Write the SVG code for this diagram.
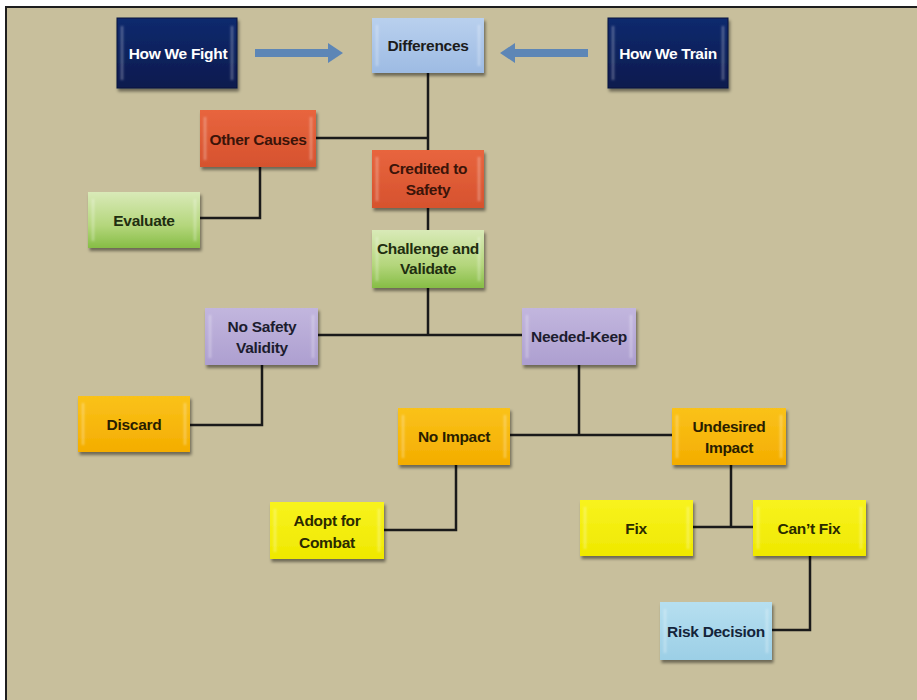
<svg xmlns="http://www.w3.org/2000/svg" width="917" height="700" viewBox="0 0 917 700">
  <style>
    .lbl { font-family: "Liberation Sans", Arial, sans-serif; font-weight: bold; font-size: 15.5px; text-anchor: middle; dominant-baseline: central; letter-spacing: -0.3px; }
    .dark { fill: #1c1c1c; }
    .light { fill: #ffffff; }
    .box { filter: url(#shadow); }
    .hl { stroke: #ffffff; stroke-opacity: 0.3; stroke-width: 2.5; fill: none; filter: url(#soft); }
    .conn { stroke: #1a1a1a; stroke-width: 2.5; fill: none; }
    .arrow { fill: #5d86b6; }
  </style>
  <defs>
    <filter id="shadow" x="-10%" y="-10%" width="130%" height="140%">
      <feDropShadow dx="1.5" dy="3" stdDeviation="1.8" flood-color="#000" flood-opacity="0.45"/>
    </filter>
    <filter id="soft" x="-50%" y="-10%" width="200%" height="120%">
      <feGaussianBlur stdDeviation="0.8"/>
    </filter>
    <linearGradient id="gNavy" x1="0" y1="0" x2="0" y2="1">
      <stop offset="0" stop-color="#0f2a6e"/>
      <stop offset="1" stop-color="#081a4e"/>
    </linearGradient>
    <linearGradient id="gSky" x1="0" y1="0" x2="0" y2="1">
      <stop offset="0" stop-color="#b9d0ee"/>
      <stop offset="1" stop-color="#9dbbe3"/>
    </linearGradient>
    <linearGradient id="gOrange" x1="0" y1="0" x2="0" y2="1">
      <stop offset="0" stop-color="#e8653e"/>
      <stop offset="1" stop-color="#d6522e"/>
    </linearGradient>
    <linearGradient id="gGreen" x1="0" y1="0" x2="0" y2="1">
      <stop offset="0" stop-color="#d9eab8"/>
      <stop offset="0.6" stop-color="#b4d67c"/>
      <stop offset="1" stop-color="#86bd45"/>
    </linearGradient>
    <linearGradient id="gLav" x1="0" y1="0" x2="0" y2="1">
      <stop offset="0" stop-color="#c2b6de"/>
      <stop offset="1" stop-color="#ad9fd0"/>
    </linearGradient>
    <linearGradient id="gAmber" x1="0" y1="0" x2="0" y2="1">
      <stop offset="0" stop-color="#fac21a"/>
      <stop offset="1" stop-color="#f4ad00"/>
    </linearGradient>
    <linearGradient id="gYellow" x1="0" y1="0" x2="0" y2="1">
      <stop offset="0" stop-color="#f8f31e"/>
      <stop offset="1" stop-color="#efe800"/>
    </linearGradient>
    <linearGradient id="gIce" x1="0" y1="0" x2="0" y2="1">
      <stop offset="0" stop-color="#b6dff0"/>
      <stop offset="1" stop-color="#9ccfe6"/>
    </linearGradient>
  </defs>

  <!-- page and panel -->
  <rect x="0" y="0" width="917" height="700" fill="#ffffff"/>
  <rect x="6" y="7" width="920" height="700" fill="#c8bf9c" stroke="#1e1e1e" stroke-width="2"/>

  <!-- connectors -->
  <g id="connectors">
    <path class="arrow" d="M255,49 L328,49 L328,43 L343,53 L328,63 L328,57 L255,57 Z"/>
    <path class="arrow" d="M588,49 L515,49 L515,43 L500,53 L515,63 L515,57 L588,57 Z"/>
    <path class="conn" d="M428,73 V150"/>
    <path class="conn" d="M316,138 H428"/>
    <path class="conn" d="M260,167 V218 H200"/>
    <path class="conn" d="M428,208 V230"/>
    <path class="conn" d="M428,288 V335"/>
    <path class="conn" d="M318,335 H522"/>
    <path class="conn" d="M262,365 V425 H190"/>
    <path class="conn" d="M579,365 V435"/>
    <path class="conn" d="M510,435 H672"/>
    <path class="conn" d="M456,465 V530 H384"/>
    <path class="conn" d="M731,465 V527"/>
    <path class="conn" d="M693,527 H753"/>
    <path class="conn" d="M810,556 V630 H772"/>
  </g>

  <!-- nodes -->
  <g id="how-we-fight">
    <rect class="box" x="117" y="18" width="120" height="70" fill="url(#gNavy)" stroke="#06143c" stroke-width="1"/>
    <path class="hl" d="M122,26 V80 M232,26 V80" stroke="#7fa0e0" stroke-opacity="0.5"/>
    <text class="lbl light" x="178" y="53">How We Fight</text>
  </g>
  <g id="differences">
    <rect class="box" x="372" y="18" width="112" height="55" fill="url(#gSky)"/>
    <path class="hl" d="M377,25 V66 M479,25 V66"/>
    <text class="lbl dark" x="428" y="45">Differences</text>
  </g>
  <g id="how-we-train">
    <rect class="box" x="608" y="18" width="120" height="70" fill="url(#gNavy)" stroke="#06143c" stroke-width="1"/>
    <path class="hl" d="M613,26 V80 M723,26 V80" stroke="#7fa0e0" stroke-opacity="0.5"/>
    <text class="lbl light" x="668" y="53">How We Train</text>
  </g>
  <g id="other-causes">
    <rect class="box" x="200" y="110" width="116" height="57" fill="url(#gOrange)"/>
    <path class="hl" d="M205,117 V160 M311,117 V160"/>
    <text class="lbl" x="258" y="139" fill="#3b1409">Other Causes</text>
  </g>
  <g id="credited-to-safety">
    <rect class="box" x="372" y="150" width="112" height="58" fill="url(#gOrange)"/>
    <path class="hl" d="M377,157 V201 M479,157 V201"/>
    <text class="lbl" x="428" y="168" fill="#3b1409">Credited to</text>
    <text class="lbl" x="428" y="189" fill="#3b1409">Safety</text>
  </g>
  <g id="evaluate">
    <rect class="box" x="88" y="192" width="112" height="56" fill="url(#gGreen)"/>
    <path class="hl" d="M93,199 V241 M195,199 V241"/>
    <text class="lbl" x="144" y="220" fill="#1f2e10">Evaluate</text>
  </g>
  <g id="challenge-and-validate">
    <rect class="box" x="372" y="230" width="112" height="58" fill="url(#gGreen)"/>
    <path class="hl" d="M377,237 V281 M479,237 V281"/>
    <text class="lbl" x="428" y="248" fill="#1f2e10">Challenge and</text>
    <text class="lbl" x="428" y="268" fill="#1f2e10">Validate</text>
  </g>
  <g id="no-safety-validity">
    <rect class="box" x="205" y="308" width="113" height="57" fill="url(#gLav)"/>
    <path class="hl" d="M210,315 V358 M313,315 V358"/>
    <text class="lbl" x="262" y="326" fill="#1c1c2e">No Safety</text>
    <text class="lbl" x="262" y="347" fill="#1c1c2e">Validity</text>
  </g>
  <g id="needed-keep">
    <rect class="box" x="522" y="308" width="114" height="57" fill="url(#gLav)"/>
    <path class="hl" d="M527,315 V358 M631,315 V358"/>
    <text class="lbl" x="579" y="336" fill="#1c1c2e">Needed-Keep</text>
  </g>
  <g id="discard">
    <rect class="box" x="78" y="396" width="112" height="56" fill="url(#gAmber)"/>
    <path class="hl" d="M83,403 V445 M185,403 V445"/>
    <text class="lbl" x="134" y="424" fill="#2a1e00">Discard</text>
  </g>
  <g id="no-impact">
    <rect class="box" x="398" y="408" width="112" height="57" fill="url(#gAmber)"/>
    <path class="hl" d="M403,415 V458 M505,415 V458"/>
    <text class="lbl" x="454" y="436" fill="#2a1e00">No Impact</text>
  </g>
  <g id="undesired-impact">
    <rect class="box" x="672" y="408" width="114" height="57" fill="url(#gAmber)"/>
    <path class="hl" d="M677,415 V458 M781,415 V458"/>
    <text class="lbl" x="729" y="426" fill="#2a1e00">Undesired</text>
    <text class="lbl" x="729" y="447" fill="#2a1e00">Impact</text>
  </g>
  <g id="adopt-for-combat">
    <rect class="box" x="270" y="502" width="114" height="57" fill="url(#gYellow)"/>
    <path class="hl" d="M275,509 V552 M379,509 V552"/>
    <text class="lbl" x="327" y="520" fill="#2a2a00">Adopt for</text>
    <text class="lbl" x="327" y="542" fill="#2a2a00">Combat</text>
  </g>
  <g id="fix">
    <rect class="box" x="580" y="500" width="113" height="56" fill="url(#gYellow)"/>
    <path class="hl" d="M585,507 V549 M688,507 V549"/>
    <text class="lbl" x="636" y="528" fill="#2a2a00">Fix</text>
  </g>
  <g id="cant-fix">
    <rect class="box" x="753" y="500" width="113" height="56" fill="url(#gYellow)"/>
    <path class="hl" d="M758,507 V549 M861,507 V549"/>
    <text class="lbl" x="809" y="528" fill="#2a2a00">Can’t Fix</text>
  </g>
  <g id="risk-decision">
    <rect class="box" x="660" y="602" width="112" height="58" fill="url(#gIce)"/>
    <path class="hl" d="M665,609 V653 M767,609 V653"/>
    <text class="lbl" x="716" y="631" fill="#14243a">Risk Decision</text>
  </g>
</svg>
